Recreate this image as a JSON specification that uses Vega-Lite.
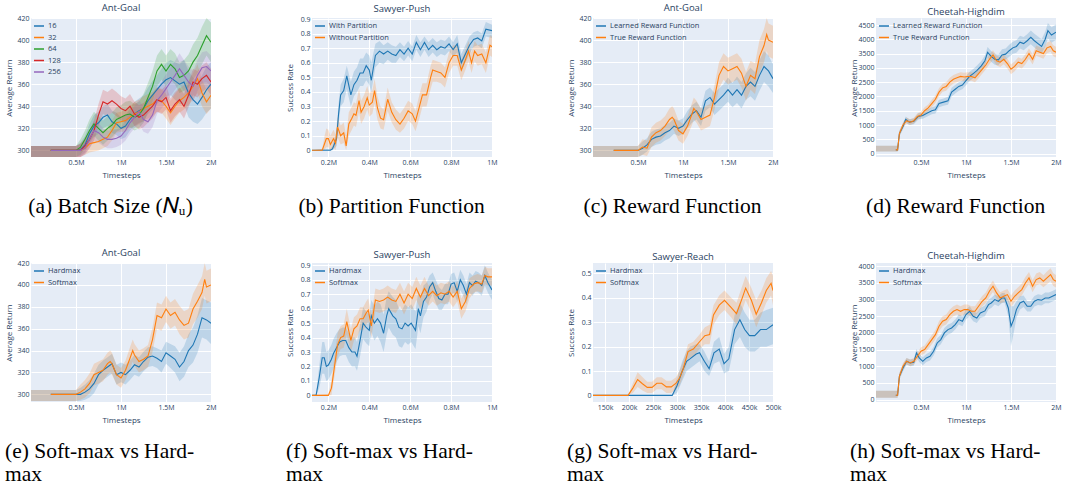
{
"$schema":"https://vega.github.io/schema/vega-lite/v6.json",
"padding":{"left":5,"top":2,"right":0,"bottom":0},
"background":"white",
"columns":4,
"spacing":{"row":29,"column":69},
"resolve":{"scale":{"x":"independent","y":"independent","color":"independent"},"axis":{"x":"independent","y":"independent"},"legend":{"color":"independent"}},
"datasets":{
"a":[
{"s":"16","x":0,"y":null,"l":294,"h":304},{"s":"16","x":0.22,"y":300,"l":294,"h":304},{"s":"16","x":0.5,"y":300,"l":294,"h":304},
{"s":"16","x":0.55,"y":301,"l":295,"h":307},{"s":"16","x":0.6,"y":305,"l":298,"h":313},{"s":"16","x":0.65,"y":315,"l":306,"h":324},{"s":"16","x":0.7,"y":322,"l":312,"h":332},{"s":"16","x":0.75,"y":325,"l":315,"h":335},{"s":"16","x":0.8,"y":330,"l":320,"h":340},{"s":"16","x":0.85,"y":332,"l":322,"h":342},{"s":"16","x":0.9,"y":326,"l":316,"h":336},{"s":"16","x":0.95,"y":324,"l":314,"h":334},{"s":"16","x":1.0,"y":320,"l":310,"h":330},{"s":"16","x":1.05,"y":322,"l":312,"h":332},{"s":"16","x":1.1,"y":328,"l":318,"h":338},{"s":"16","x":1.15,"y":333,"l":322,"h":344},{"s":"16","x":1.2,"y":336,"l":325,"h":347},{"s":"16","x":1.25,"y":338,"l":326,"h":350},{"s":"16","x":1.3,"y":345,"l":333,"h":357},{"s":"16","x":1.35,"y":350,"l":337,"h":363},{"s":"16","x":1.4,"y":355,"l":342,"h":368},{"s":"16","x":1.45,"y":360,"l":346,"h":374},{"s":"16","x":1.5,"y":364,"l":349,"h":379},{"s":"16","x":1.55,"y":366,"l":350,"h":382},{"s":"16","x":1.6,"y":363,"l":346,"h":380},{"s":"16","x":1.65,"y":360,"l":342,"h":378},{"s":"16","x":1.7,"y":362,"l":342,"h":382},{"s":"16","x":1.75,"y":352,"l":330,"h":372},{"s":"16","x":1.8,"y":346,"l":326,"h":366},{"s":"16","x":1.85,"y":342,"l":324,"h":362},{"s":"16","x":1.9,"y":348,"l":328,"h":368},{"s":"16","x":1.95,"y":355,"l":334,"h":376},{"s":"16","x":2.0,"y":360,"l":338,"h":380},
{"s":"32","x":0,"y":null,"l":294,"h":304},{"s":"32","x":0.22,"y":300,"l":294,"h":304},{"s":"32","x":0.5,"y":300,"l":294,"h":304},
{"s":"32","x":0.55,"y":300,"l":294,"h":306},{"s":"32","x":0.6,"y":302,"l":296,"h":310},{"s":"32","x":0.65,"y":306,"l":298,"h":314},{"s":"32","x":0.7,"y":307,"l":299,"h":315},{"s":"32","x":0.75,"y":308,"l":300,"h":316},{"s":"32","x":0.8,"y":310,"l":302,"h":318},{"s":"32","x":0.85,"y":312,"l":304,"h":320},{"s":"32","x":0.9,"y":318,"l":309,"h":327},{"s":"32","x":0.95,"y":325,"l":316,"h":334},{"s":"32","x":1.0,"y":326,"l":317,"h":335},{"s":"32","x":1.05,"y":327,"l":317,"h":337},{"s":"32","x":1.1,"y":330,"l":320,"h":340},{"s":"32","x":1.15,"y":333,"l":322,"h":344},{"s":"32","x":1.2,"y":335,"l":324,"h":346},{"s":"32","x":1.25,"y":338,"l":327,"h":349},{"s":"32","x":1.3,"y":340,"l":329,"h":351},{"s":"32","x":1.35,"y":342,"l":331,"h":353},{"s":"32","x":1.4,"y":346,"l":335,"h":357},{"s":"32","x":1.45,"y":345,"l":334,"h":356},{"s":"32","x":1.5,"y":340,"l":329,"h":351},{"s":"32","x":1.55,"y":334,"l":323,"h":345},{"s":"32","x":1.6,"y":340,"l":329,"h":351},{"s":"32","x":1.65,"y":345,"l":334,"h":356},{"s":"32","x":1.7,"y":348,"l":337,"h":359},{"s":"32","x":1.75,"y":352,"l":341,"h":363},{"s":"32","x":1.8,"y":358,"l":346,"h":370},{"s":"32","x":1.85,"y":365,"l":352,"h":378},{"s":"32","x":1.9,"y":352,"l":340,"h":364},{"s":"32","x":1.95,"y":344,"l":333,"h":355},{"s":"32","x":2.0,"y":350,"l":338,"h":362},
{"s":"64","x":0,"y":null,"l":294,"h":304},{"s":"64","x":0.22,"y":300,"l":294,"h":304},{"s":"64","x":0.5,"y":300,"l":294,"h":304},
{"s":"64","x":0.55,"y":303,"l":296,"h":310},{"s":"64","x":0.6,"y":310,"l":302,"h":318},{"s":"64","x":0.65,"y":318,"l":308,"h":328},{"s":"64","x":0.7,"y":324,"l":313,"h":335},{"s":"64","x":0.75,"y":320,"l":309,"h":331},{"s":"64","x":0.8,"y":316,"l":305,"h":327},{"s":"64","x":0.85,"y":320,"l":309,"h":331},{"s":"64","x":0.9,"y":323,"l":312,"h":334},{"s":"64","x":0.95,"y":328,"l":317,"h":339},{"s":"64","x":1.0,"y":330,"l":319,"h":341},{"s":"64","x":1.05,"y":332,"l":320,"h":344},{"s":"64","x":1.1,"y":333,"l":321,"h":345},{"s":"64","x":1.15,"y":330,"l":318,"h":342},{"s":"64","x":1.2,"y":332,"l":320,"h":344},{"s":"64","x":1.25,"y":338,"l":325,"h":351},{"s":"64","x":1.3,"y":348,"l":335,"h":361},{"s":"64","x":1.35,"y":358,"l":344,"h":372},{"s":"64","x":1.4,"y":372,"l":358,"h":386},{"s":"64","x":1.45,"y":378,"l":364,"h":392},{"s":"64","x":1.5,"y":372,"l":358,"h":386},{"s":"64","x":1.55,"y":378,"l":364,"h":392},{"s":"64","x":1.6,"y":374,"l":360,"h":388},{"s":"64","x":1.65,"y":366,"l":352,"h":380},{"s":"64","x":1.7,"y":368,"l":354,"h":382},{"s":"64","x":1.75,"y":372,"l":357,"h":387},{"s":"64","x":1.8,"y":380,"l":364,"h":396},{"s":"64","x":1.85,"y":386,"l":370,"h":402},{"s":"64","x":1.9,"y":395,"l":378,"h":412},{"s":"64","x":1.95,"y":404,"l":386,"h":420},{"s":"64","x":2.0,"y":398,"l":380,"h":416},
{"s":"128","x":0,"y":null,"l":294,"h":304},{"s":"128","x":0.22,"y":300,"l":294,"h":304},{"s":"128","x":0.5,"y":300,"l":294,"h":304},
{"s":"128","x":0.55,"y":300,"l":294,"h":306},{"s":"128","x":0.6,"y":304,"l":297,"h":311},{"s":"128","x":0.65,"y":310,"l":302,"h":318},{"s":"128","x":0.7,"y":318,"l":309,"h":327},{"s":"128","x":0.75,"y":332,"l":322,"h":342},{"s":"128","x":0.8,"y":344,"l":333,"h":355},{"s":"128","x":0.85,"y":342,"l":331,"h":353},{"s":"128","x":0.9,"y":345,"l":334,"h":356},{"s":"128","x":0.95,"y":342,"l":331,"h":353},{"s":"128","x":1.0,"y":338,"l":327,"h":349},{"s":"128","x":1.05,"y":336,"l":325,"h":347},{"s":"128","x":1.1,"y":340,"l":329,"h":351},{"s":"128","x":1.15,"y":333,"l":322,"h":344},{"s":"128","x":1.2,"y":330,"l":319,"h":341},{"s":"128","x":1.25,"y":332,"l":321,"h":343},{"s":"128","x":1.3,"y":336,"l":325,"h":347},{"s":"128","x":1.35,"y":340,"l":329,"h":351},{"s":"128","x":1.4,"y":346,"l":335,"h":357},{"s":"128","x":1.45,"y":344,"l":333,"h":355},{"s":"128","x":1.5,"y":348,"l":337,"h":359},{"s":"128","x":1.55,"y":336,"l":325,"h":347},{"s":"128","x":1.6,"y":342,"l":331,"h":353},{"s":"128","x":1.65,"y":346,"l":335,"h":357},{"s":"128","x":1.7,"y":340,"l":329,"h":351},{"s":"128","x":1.75,"y":350,"l":339,"h":361},{"s":"128","x":1.8,"y":362,"l":350,"h":374},{"s":"128","x":1.85,"y":360,"l":348,"h":372},{"s":"128","x":1.9,"y":365,"l":353,"h":377},{"s":"128","x":1.95,"y":368,"l":356,"h":380},{"s":"128","x":2.0,"y":362,"l":350,"h":374},
{"s":"256","x":0,"y":null,"l":294,"h":304},{"s":"256","x":0.22,"y":300,"l":294,"h":304},{"s":"256","x":0.5,"y":300,"l":294,"h":304},
{"s":"256","x":0.55,"y":300,"l":294,"h":306},{"s":"256","x":0.6,"y":302,"l":296,"h":308},{"s":"256","x":0.65,"y":310,"l":302,"h":318},{"s":"256","x":0.7,"y":318,"l":309,"h":327},{"s":"256","x":0.75,"y":316,"l":307,"h":325},{"s":"256","x":0.8,"y":312,"l":304,"h":320},{"s":"256","x":0.85,"y":310,"l":302,"h":318},{"s":"256","x":0.9,"y":310,"l":302,"h":318},{"s":"256","x":0.95,"y":311,"l":303,"h":319},{"s":"256","x":1.0,"y":313,"l":305,"h":321},{"s":"256","x":1.05,"y":318,"l":309,"h":327},{"s":"256","x":1.1,"y":325,"l":315,"h":335},{"s":"256","x":1.15,"y":330,"l":320,"h":340},{"s":"256","x":1.2,"y":335,"l":324,"h":346},{"s":"256","x":1.25,"y":328,"l":317,"h":339},{"s":"256","x":1.3,"y":326,"l":315,"h":337},{"s":"256","x":1.35,"y":332,"l":321,"h":343},{"s":"256","x":1.4,"y":345,"l":333,"h":357},{"s":"256","x":1.45,"y":350,"l":338,"h":362},{"s":"256","x":1.5,"y":356,"l":343,"h":369},{"s":"256","x":1.55,"y":362,"l":349,"h":375},{"s":"256","x":1.6,"y":368,"l":355,"h":381},{"s":"256","x":1.65,"y":374,"l":360,"h":388},{"s":"256","x":1.7,"y":368,"l":354,"h":382},{"s":"256","x":1.75,"y":362,"l":348,"h":376},{"s":"256","x":1.8,"y":358,"l":344,"h":372},{"s":"256","x":1.85,"y":368,"l":354,"h":382},{"s":"256","x":1.9,"y":375,"l":361,"h":389},{"s":"256","x":1.95,"y":376,"l":362,"h":390},{"s":"256","x":2.0,"y":372,"l":358,"h":386}
],
"b":[
{"s":"With Partition","x":0.12,"y":0,"l":0,"h":0},{"s":"With Partition","x":0.21,"y":0,"l":0,"h":0.01},{"s":"With Partition","x":0.22,"y":0.01,"l":0,"h":0.03},{"s":"With Partition","x":0.24,"y":0.08,"l":0.03,"h":0.13},{"s":"With Partition","x":0.25,"y":0.25,"l":0.18,"h":0.32},{"s":"With Partition","x":0.26,"y":0.38,"l":0.3,"h":0.45},{"s":"With Partition","x":0.275,"y":0.41,"l":0.33,"h":0.49},{"s":"With Partition","x":0.29,"y":0.51,"l":0.42,"h":0.58},{"s":"With Partition","x":0.31,"y":0.38,"l":0.3,"h":0.47},{"s":"With Partition","x":0.325,"y":0.45,"l":0.37,"h":0.54},{"s":"With Partition","x":0.34,"y":0.48,"l":0.4,"h":0.57},{"s":"With Partition","x":0.355,"y":0.53,"l":0.44,"h":0.63},{"s":"With Partition","x":0.37,"y":0.53,"l":0.44,"h":0.63},{"s":"With Partition","x":0.385,"y":0.58,"l":0.48,"h":0.67},{"s":"With Partition","x":0.4,"y":0.55,"l":0.45,"h":0.65},{"s":"With Partition","x":0.41,"y":0.48,"l":0.4,"h":0.6},{"s":"With Partition","x":0.43,"y":0.65,"l":0.57,"h":0.73},{"s":"With Partition","x":0.45,"y":0.68,"l":0.6,"h":0.75},{"s":"With Partition","x":0.47,"y":0.66,"l":0.59,"h":0.72},{"s":"With Partition","x":0.49,"y":0.68,"l":0.62,"h":0.74},{"s":"With Partition","x":0.51,"y":0.66,"l":0.6,"h":0.72},{"s":"With Partition","x":0.53,"y":0.65,"l":0.6,"h":0.71},{"s":"With Partition","x":0.55,"y":0.69,"l":0.64,"h":0.74},{"s":"With Partition","x":0.57,"y":0.66,"l":0.61,"h":0.71},{"s":"With Partition","x":0.59,"y":0.7,"l":0.65,"h":0.75},{"s":"With Partition","x":0.61,"y":0.66,"l":0.61,"h":0.71},{"s":"With Partition","x":0.63,"y":0.74,"l":0.69,"h":0.79},{"s":"With Partition","x":0.65,"y":0.69,"l":0.64,"h":0.74},{"s":"With Partition","x":0.67,"y":0.74,"l":0.69,"h":0.78},{"s":"With Partition","x":0.69,"y":0.69,"l":0.64,"h":0.74},{"s":"With Partition","x":0.71,"y":0.72,"l":0.67,"h":0.77},{"s":"With Partition","x":0.73,"y":0.69,"l":0.64,"h":0.74},{"s":"With Partition","x":0.75,"y":0.71,"l":0.66,"h":0.76},{"s":"With Partition","x":0.77,"y":0.7,"l":0.65,"h":0.75},{"s":"With Partition","x":0.79,"y":0.73,"l":0.68,"h":0.78},{"s":"With Partition","x":0.81,"y":0.69,"l":0.64,"h":0.74},{"s":"With Partition","x":0.83,"y":0.73,"l":0.67,"h":0.79},{"s":"With Partition","x":0.85,"y":0.6,"l":0.54,"h":0.66},{"s":"With Partition","x":0.87,"y":0.66,"l":0.6,"h":0.72},{"s":"With Partition","x":0.89,"y":0.72,"l":0.66,"h":0.78},{"s":"With Partition","x":0.91,"y":0.76,"l":0.71,"h":0.81},{"s":"With Partition","x":0.93,"y":0.77,"l":0.72,"h":0.82},{"s":"With Partition","x":0.95,"y":0.75,"l":0.7,"h":0.8},{"s":"With Partition","x":0.97,"y":0.83,"l":0.78,"h":0.88},{"s":"With Partition","x":1.0,"y":0.82,"l":0.77,"h":0.86},
{"s":"Without Partition","x":0.12,"y":0,"l":0,"h":0},{"s":"Without Partition","x":0.17,"y":0,"l":0,"h":0.01},{"s":"Without Partition","x":0.18,"y":0.04,"l":0,"h":0.09},{"s":"Without Partition","x":0.19,"y":0.08,"l":0.02,"h":0.15},{"s":"Without Partition","x":0.2,"y":0.08,"l":0.02,"h":0.14},{"s":"Without Partition","x":0.21,"y":0.04,"l":0,"h":0.1},{"s":"Without Partition","x":0.225,"y":0.08,"l":0.02,"h":0.14},{"s":"Without Partition","x":0.235,"y":0.05,"l":0,"h":0.11},{"s":"Without Partition","x":0.245,"y":0.16,"l":0.09,"h":0.23},{"s":"Without Partition","x":0.26,"y":0.1,"l":0.04,"h":0.17},{"s":"Without Partition","x":0.275,"y":0.12,"l":0.05,"h":0.19},{"s":"Without Partition","x":0.287,"y":0.03,"l":0,"h":0.1},{"s":"Without Partition","x":0.3,"y":0.18,"l":0.1,"h":0.26},{"s":"Without Partition","x":0.315,"y":0.22,"l":0.14,"h":0.3},{"s":"Without Partition","x":0.325,"y":0.25,"l":0.17,"h":0.33},{"s":"Without Partition","x":0.335,"y":0.24,"l":0.16,"h":0.32},{"s":"Without Partition","x":0.35,"y":0.34,"l":0.26,"h":0.42},{"s":"Without Partition","x":0.36,"y":0.26,"l":0.18,"h":0.34},{"s":"Without Partition","x":0.375,"y":0.3,"l":0.22,"h":0.38},{"s":"Without Partition","x":0.39,"y":0.36,"l":0.28,"h":0.44},{"s":"Without Partition","x":0.4,"y":0.31,"l":0.23,"h":0.39},{"s":"Without Partition","x":0.415,"y":0.33,"l":0.25,"h":0.41},{"s":"Without Partition","x":0.426,"y":0.41,"l":0.32,"h":0.49},{"s":"Without Partition","x":0.44,"y":0.29,"l":0.21,"h":0.37},{"s":"Without Partition","x":0.455,"y":0.22,"l":0.15,"h":0.3},{"s":"Without Partition","x":0.47,"y":0.21,"l":0.14,"h":0.28},{"s":"Without Partition","x":0.49,"y":0.35,"l":0.27,"h":0.43},{"s":"Without Partition","x":0.51,"y":0.26,"l":0.19,"h":0.33},{"s":"Without Partition","x":0.53,"y":0.21,"l":0.14,"h":0.28},{"s":"Without Partition","x":0.55,"y":0.18,"l":0.12,"h":0.25},{"s":"Without Partition","x":0.57,"y":0.22,"l":0.15,"h":0.29},{"s":"Without Partition","x":0.59,"y":0.27,"l":0.2,"h":0.34},{"s":"Without Partition","x":0.61,"y":0.25,"l":0.18,"h":0.32},{"s":"Without Partition","x":0.626,"y":0.2,"l":0.13,"h":0.27},{"s":"Without Partition","x":0.645,"y":0.3,"l":0.22,"h":0.38},{"s":"Without Partition","x":0.66,"y":0.38,"l":0.3,"h":0.46},{"s":"Without Partition","x":0.68,"y":0.38,"l":0.3,"h":0.46},{"s":"Without Partition","x":0.7,"y":0.5,"l":0.42,"h":0.58},{"s":"Without Partition","x":0.71,"y":0.55,"l":0.47,"h":0.62},{"s":"Without Partition","x":0.73,"y":0.54,"l":0.47,"h":0.61},{"s":"Without Partition","x":0.75,"y":0.53,"l":0.46,"h":0.6},{"s":"Without Partition","x":0.77,"y":0.5,"l":0.43,"h":0.57},{"s":"Without Partition","x":0.79,"y":0.6,"l":0.53,"h":0.67},{"s":"Without Partition","x":0.81,"y":0.65,"l":0.58,"h":0.72},{"s":"Without Partition","x":0.83,"y":0.65,"l":0.58,"h":0.72},{"s":"Without Partition","x":0.85,"y":0.55,"l":0.48,"h":0.62},{"s":"Without Partition","x":0.87,"y":0.62,"l":0.55,"h":0.69},{"s":"Without Partition","x":0.885,"y":0.68,"l":0.61,"h":0.75},{"s":"Without Partition","x":0.9,"y":0.6,"l":0.53,"h":0.67},{"s":"Without Partition","x":0.915,"y":0.68,"l":0.61,"h":0.75},{"s":"Without Partition","x":0.93,"y":0.65,"l":0.58,"h":0.72},{"s":"Without Partition","x":0.95,"y":0.66,"l":0.59,"h":0.73},{"s":"Without Partition","x":0.97,"y":0.6,"l":0.53,"h":0.67},{"s":"Without Partition","x":0.99,"y":0.72,"l":0.65,"h":0.79},{"s":"Without Partition","x":1.0,"y":0.71,"l":0.64,"h":0.78}
],
"c":[
{"s":"Learned Reward Function","x":0,"y":null,"l":294,"h":304},{"s":"Learned Reward Function","x":0.23,"y":300,"l":294,"h":304},{"s":"Learned Reward Function","x":0.5,"y":300,"l":294,"h":304},
{"s":"Learned Reward Function","x":0.55,"y":302,"l":296,"h":308},{"s":"Learned Reward Function","x":0.6,"y":305,"l":299,"h":311},{"s":"Learned Reward Function","x":0.65,"y":310,"l":303,"h":317},{"s":"Learned Reward Function","x":0.7,"y":312,"l":305,"h":319},{"s":"Learned Reward Function","x":0.75,"y":313,"l":306,"h":320},{"s":"Learned Reward Function","x":0.8,"y":316,"l":309,"h":323},{"s":"Learned Reward Function","x":0.85,"y":318,"l":311,"h":325},{"s":"Learned Reward Function","x":0.9,"y":322,"l":315,"h":329},{"s":"Learned Reward Function","x":0.95,"y":320,"l":313,"h":327},{"s":"Learned Reward Function","x":1.0,"y":322,"l":315,"h":329},{"s":"Learned Reward Function","x":1.05,"y":328,"l":320,"h":336},{"s":"Learned Reward Function","x":1.1,"y":333,"l":325,"h":341},{"s":"Learned Reward Function","x":1.15,"y":336,"l":328,"h":344},{"s":"Learned Reward Function","x":1.2,"y":330,"l":322,"h":338},{"s":"Learned Reward Function","x":1.25,"y":345,"l":336,"h":354},{"s":"Learned Reward Function","x":1.3,"y":348,"l":339,"h":357},{"s":"Learned Reward Function","x":1.35,"y":342,"l":332,"h":352},{"s":"Learned Reward Function","x":1.4,"y":346,"l":336,"h":356},{"s":"Learned Reward Function","x":1.45,"y":350,"l":340,"h":360},{"s":"Learned Reward Function","x":1.5,"y":355,"l":344,"h":366},{"s":"Learned Reward Function","x":1.55,"y":350,"l":339,"h":361},{"s":"Learned Reward Function","x":1.6,"y":355,"l":343,"h":367},{"s":"Learned Reward Function","x":1.65,"y":350,"l":338,"h":362},{"s":"Learned Reward Function","x":1.7,"y":358,"l":346,"h":370},{"s":"Learned Reward Function","x":1.75,"y":362,"l":349,"h":375},{"s":"Learned Reward Function","x":1.8,"y":358,"l":345,"h":371},{"s":"Learned Reward Function","x":1.85,"y":368,"l":354,"h":382},{"s":"Learned Reward Function","x":1.9,"y":376,"l":362,"h":390},{"s":"Learned Reward Function","x":1.95,"y":372,"l":358,"h":386},{"s":"Learned Reward Function","x":2.0,"y":365,"l":352,"h":378},
{"s":"True Reward Function","x":0,"y":null,"l":294,"h":304},{"s":"True Reward Function","x":0.23,"y":300,"l":294,"h":304},{"s":"True Reward Function","x":0.5,"y":300,"l":294,"h":304},
{"s":"True Reward Function","x":0.55,"y":303,"l":296,"h":310},{"s":"True Reward Function","x":0.6,"y":302,"l":295,"h":309},{"s":"True Reward Function","x":0.65,"y":312,"l":303,"h":321},{"s":"True Reward Function","x":0.7,"y":316,"l":307,"h":325},{"s":"True Reward Function","x":0.75,"y":318,"l":309,"h":327},{"s":"True Reward Function","x":0.8,"y":322,"l":313,"h":331},{"s":"True Reward Function","x":0.85,"y":328,"l":318,"h":338},{"s":"True Reward Function","x":0.88,"y":330,"l":320,"h":340},{"s":"True Reward Function","x":0.9,"y":328,"l":318,"h":338},{"s":"True Reward Function","x":0.95,"y":318,"l":309,"h":327},{"s":"True Reward Function","x":1.0,"y":315,"l":306,"h":324},{"s":"True Reward Function","x":1.05,"y":322,"l":313,"h":331},{"s":"True Reward Function","x":1.1,"y":333,"l":323,"h":343},{"s":"True Reward Function","x":1.12,"y":338,"l":328,"h":348},{"s":"True Reward Function","x":1.15,"y":335,"l":325,"h":345},{"s":"True Reward Function","x":1.2,"y":328,"l":318,"h":338},{"s":"True Reward Function","x":1.25,"y":330,"l":320,"h":340},{"s":"True Reward Function","x":1.3,"y":332,"l":322,"h":342},{"s":"True Reward Function","x":1.35,"y":348,"l":337,"h":359},{"s":"True Reward Function","x":1.4,"y":368,"l":356,"h":380},{"s":"True Reward Function","x":1.45,"y":376,"l":364,"h":388},{"s":"True Reward Function","x":1.5,"y":372,"l":360,"h":384},{"s":"True Reward Function","x":1.55,"y":374,"l":362,"h":386},{"s":"True Reward Function","x":1.6,"y":376,"l":364,"h":388},{"s":"True Reward Function","x":1.65,"y":370,"l":357,"h":383},{"s":"True Reward Function","x":1.7,"y":358,"l":345,"h":371},{"s":"True Reward Function","x":1.75,"y":368,"l":355,"h":381},{"s":"True Reward Function","x":1.8,"y":365,"l":351,"h":379},{"s":"True Reward Function","x":1.85,"y":385,"l":370,"h":400},{"s":"True Reward Function","x":1.9,"y":395,"l":380,"h":410},{"s":"True Reward Function","x":1.93,"y":405,"l":390,"h":420},{"s":"True Reward Function","x":1.95,"y":400,"l":385,"h":415},{"s":"True Reward Function","x":2.0,"y":398,"l":383,"h":413}
],
"d":[
{"s":"Learned Reward Function","x":0,"y":null,"l":70,"h":270},{"s":"Learned Reward Function","x":0.22,"y":130,"l":70,"h":270},{"s":"Learned Reward Function","x":0.24,"y":130,"l":70,"h":270},
{"s":"Learned Reward Function","x":0.26,"y":700,"l":600,"h":800},{"s":"Learned Reward Function","x":0.3,"y":950,"l":850,"h":1050},{"s":"Learned Reward Function","x":0.33,"y":1200,"l":1080,"h":1300},{"s":"Learned Reward Function","x":0.37,"y":1100,"l":1000,"h":1200},{"s":"Learned Reward Function","x":0.42,"y":1130,"l":1030,"h":1230},{"s":"Learned Reward Function","x":0.47,"y":1300,"l":1190,"h":1410},{"s":"Learned Reward Function","x":0.52,"y":1330,"l":1220,"h":1440},{"s":"Learned Reward Function","x":0.57,"y":1420,"l":1300,"h":1540},{"s":"Learned Reward Function","x":0.62,"y":1500,"l":1380,"h":1620},{"s":"Learned Reward Function","x":0.66,"y":1530,"l":1400,"h":1660},{"s":"Learned Reward Function","x":0.7,"y":1750,"l":1620,"h":1880},{"s":"Learned Reward Function","x":0.75,"y":1800,"l":1670,"h":1930},{"s":"Learned Reward Function","x":0.8,"y":1850,"l":1710,"h":1990},{"s":"Learned Reward Function","x":0.84,"y":2150,"l":2000,"h":2300},{"s":"Learned Reward Function","x":0.88,"y":2250,"l":2100,"h":2400},{"s":"Learned Reward Function","x":0.92,"y":2350,"l":2200,"h":2500},{"s":"Learned Reward Function","x":0.96,"y":2400,"l":2250,"h":2550},{"s":"Learned Reward Function","x":1.0,"y":2550,"l":2390,"h":2710},{"s":"Learned Reward Function","x":1.04,"y":2700,"l":2540,"h":2860},{"s":"Learned Reward Function","x":1.08,"y":2800,"l":2640,"h":2960},{"s":"Learned Reward Function","x":1.12,"y":2900,"l":2730,"h":3070},{"s":"Learned Reward Function","x":1.17,"y":3070,"l":2900,"h":3240},{"s":"Learned Reward Function","x":1.21,"y":3250,"l":3070,"h":3430},{"s":"Learned Reward Function","x":1.24,"y":3540,"l":3350,"h":3730},{"s":"Learned Reward Function","x":1.28,"y":3400,"l":3210,"h":3590},{"s":"Learned Reward Function","x":1.32,"y":3300,"l":3110,"h":3490},{"s":"Learned Reward Function","x":1.36,"y":3280,"l":3090,"h":3470},{"s":"Learned Reward Function","x":1.4,"y":3450,"l":3250,"h":3650},{"s":"Learned Reward Function","x":1.44,"y":3480,"l":3280,"h":3680},{"s":"Learned Reward Function","x":1.48,"y":3600,"l":3390,"h":3810},{"s":"Learned Reward Function","x":1.52,"y":3700,"l":3490,"h":3910},{"s":"Learned Reward Function","x":1.56,"y":3750,"l":3530,"h":3970},{"s":"Learned Reward Function","x":1.6,"y":3900,"l":3680,"h":4120},{"s":"Learned Reward Function","x":1.64,"y":3850,"l":3620,"h":4080},{"s":"Learned Reward Function","x":1.68,"y":3950,"l":3720,"h":4180},{"s":"Learned Reward Function","x":1.72,"y":4070,"l":3830,"h":4310},{"s":"Learned Reward Function","x":1.76,"y":3950,"l":3710,"h":4190},{"s":"Learned Reward Function","x":1.8,"y":3850,"l":3600,"h":4100},{"s":"Learned Reward Function","x":1.84,"y":3750,"l":3500,"h":4000},{"s":"Learned Reward Function","x":1.88,"y":4000,"l":3740,"h":4260},{"s":"Learned Reward Function","x":1.91,"y":4300,"l":4030,"h":4570},{"s":"Learned Reward Function","x":1.95,"y":4150,"l":3880,"h":4420},{"s":"Learned Reward Function","x":2.0,"y":4250,"l":3980,"h":4520},
{"s":"True Reward Function","x":0,"y":null,"l":70,"h":270},{"s":"True Reward Function","x":0.22,"y":130,"l":70,"h":270},{"s":"True Reward Function","x":0.24,"y":130,"l":70,"h":270},
{"s":"True Reward Function","x":0.26,"y":700,"l":600,"h":800},{"s":"True Reward Function","x":0.3,"y":1000,"l":900,"h":1100},{"s":"True Reward Function","x":0.34,"y":1150,"l":1050,"h":1250},{"s":"True Reward Function","x":0.38,"y":1100,"l":1000,"h":1200},{"s":"True Reward Function","x":0.42,"y":1150,"l":1050,"h":1250},{"s":"True Reward Function","x":0.46,"y":1300,"l":1190,"h":1410},{"s":"True Reward Function","x":0.5,"y":1350,"l":1240,"h":1460},{"s":"True Reward Function","x":0.54,"y":1500,"l":1380,"h":1620},{"s":"True Reward Function","x":0.58,"y":1600,"l":1480,"h":1720},{"s":"True Reward Function","x":0.62,"y":1750,"l":1620,"h":1880},{"s":"True Reward Function","x":0.66,"y":1900,"l":1770,"h":2030},{"s":"True Reward Function","x":0.7,"y":2150,"l":2010,"h":2290},{"s":"True Reward Function","x":0.74,"y":2300,"l":2160,"h":2440},{"s":"True Reward Function","x":0.78,"y":2350,"l":2200,"h":2500},{"s":"True Reward Function","x":0.82,"y":2500,"l":2350,"h":2650},{"s":"True Reward Function","x":0.86,"y":2600,"l":2450,"h":2750},{"s":"True Reward Function","x":0.9,"y":2650,"l":2500,"h":2800},{"s":"True Reward Function","x":0.94,"y":2700,"l":2550,"h":2850},{"s":"True Reward Function","x":0.98,"y":2680,"l":2530,"h":2830},{"s":"True Reward Function","x":1.02,"y":2700,"l":2550,"h":2850},{"s":"True Reward Function","x":1.06,"y":2700,"l":2550,"h":2850},{"s":"True Reward Function","x":1.1,"y":2650,"l":2500,"h":2800},{"s":"True Reward Function","x":1.14,"y":2800,"l":2640,"h":2960},{"s":"True Reward Function","x":1.18,"y":2950,"l":2790,"h":3110},{"s":"True Reward Function","x":1.22,"y":3100,"l":2940,"h":3260},{"s":"True Reward Function","x":1.26,"y":3300,"l":3130,"h":3470},{"s":"True Reward Function","x":1.3,"y":3450,"l":3280,"h":3620},{"s":"True Reward Function","x":1.34,"y":3250,"l":3080,"h":3420},{"s":"True Reward Function","x":1.38,"y":3200,"l":3030,"h":3370},{"s":"True Reward Function","x":1.42,"y":3300,"l":3130,"h":3470},{"s":"True Reward Function","x":1.46,"y":3150,"l":2980,"h":3320},{"s":"True Reward Function","x":1.5,"y":2950,"l":2780,"h":3120},{"s":"True Reward Function","x":1.54,"y":3050,"l":2880,"h":3220},{"s":"True Reward Function","x":1.58,"y":3200,"l":3030,"h":3370},{"s":"True Reward Function","x":1.62,"y":3150,"l":2980,"h":3320},{"s":"True Reward Function","x":1.66,"y":3300,"l":3120,"h":3480},{"s":"True Reward Function","x":1.7,"y":3500,"l":3320,"h":3680},{"s":"True Reward Function","x":1.74,"y":3300,"l":3120,"h":3480},{"s":"True Reward Function","x":1.78,"y":3600,"l":3420,"h":3780},{"s":"True Reward Function","x":1.82,"y":3550,"l":3370,"h":3730},{"s":"True Reward Function","x":1.86,"y":3500,"l":3320,"h":3680},{"s":"True Reward Function","x":1.9,"y":3700,"l":3510,"h":3890},{"s":"True Reward Function","x":1.94,"y":3750,"l":3560,"h":3940},{"s":"True Reward Function","x":1.97,"y":3600,"l":3410,"h":3790},{"s":"True Reward Function","x":2.0,"y":3550,"l":3360,"h":3740}
],
"e":[
{"s":"Hardmax","x":0,"y":null,"l":294,"h":304},{"s":"Hardmax","x":0.22,"y":300,"l":294,"h":304},{"s":"Hardmax","x":0.5,"y":300,"l":294,"h":304},
{"s":"Hardmax","x":0.55,"y":300,"l":294,"h":306},{"s":"Hardmax","x":0.6,"y":302,"l":295,"h":309},{"s":"Hardmax","x":0.65,"y":305,"l":297,"h":313},{"s":"Hardmax","x":0.7,"y":310,"l":301,"h":319},{"s":"Hardmax","x":0.75,"y":318,"l":309,"h":327},{"s":"Hardmax","x":0.8,"y":322,"l":313,"h":331},{"s":"Hardmax","x":0.85,"y":325,"l":316,"h":334},{"s":"Hardmax","x":0.9,"y":328,"l":319,"h":337},{"s":"Hardmax","x":0.95,"y":318,"l":309,"h":327},{"s":"Hardmax","x":1.0,"y":320,"l":311,"h":329},{"s":"Hardmax","x":1.05,"y":318,"l":309,"h":327},{"s":"Hardmax","x":1.1,"y":322,"l":313,"h":331},{"s":"Hardmax","x":1.15,"y":327,"l":318,"h":336},{"s":"Hardmax","x":1.2,"y":325,"l":316,"h":334},{"s":"Hardmax","x":1.25,"y":330,"l":321,"h":339},{"s":"Hardmax","x":1.3,"y":334,"l":325,"h":343},{"s":"Hardmax","x":1.35,"y":335,"l":326,"h":344},{"s":"Hardmax","x":1.4,"y":333,"l":324,"h":342},{"s":"Hardmax","x":1.45,"y":330,"l":320,"h":340},{"s":"Hardmax","x":1.5,"y":338,"l":328,"h":348},{"s":"Hardmax","x":1.55,"y":335,"l":324,"h":346},{"s":"Hardmax","x":1.6,"y":332,"l":320,"h":344},{"s":"Hardmax","x":1.65,"y":325,"l":312,"h":338},{"s":"Hardmax","x":1.7,"y":330,"l":316,"h":344},{"s":"Hardmax","x":1.75,"y":340,"l":325,"h":355},{"s":"Hardmax","x":1.8,"y":345,"l":329,"h":361},{"s":"Hardmax","x":1.85,"y":355,"l":338,"h":372},{"s":"Hardmax","x":1.9,"y":370,"l":352,"h":388},{"s":"Hardmax","x":1.95,"y":368,"l":350,"h":386},{"s":"Hardmax","x":2.0,"y":365,"l":346,"h":384},
{"s":"Softmax","x":0,"y":null,"l":294,"h":304},{"s":"Softmax","x":0.22,"y":300,"l":294,"h":304},{"s":"Softmax","x":0.5,"y":300,"l":294,"h":304},
{"s":"Softmax","x":0.55,"y":302,"l":295,"h":309},{"s":"Softmax","x":0.6,"y":305,"l":297,"h":313},{"s":"Softmax","x":0.65,"y":310,"l":301,"h":319},{"s":"Softmax","x":0.7,"y":318,"l":308,"h":328},{"s":"Softmax","x":0.75,"y":320,"l":310,"h":330},{"s":"Softmax","x":0.8,"y":322,"l":312,"h":332},{"s":"Softmax","x":0.85,"y":328,"l":318,"h":338},{"s":"Softmax","x":0.88,"y":330,"l":320,"h":340},{"s":"Softmax","x":0.9,"y":328,"l":318,"h":338},{"s":"Softmax","x":0.95,"y":318,"l":309,"h":327},{"s":"Softmax","x":1.0,"y":315,"l":306,"h":324},{"s":"Softmax","x":1.05,"y":322,"l":313,"h":331},{"s":"Softmax","x":1.1,"y":333,"l":323,"h":343},{"s":"Softmax","x":1.13,"y":340,"l":330,"h":350},{"s":"Softmax","x":1.15,"y":336,"l":326,"h":346},{"s":"Softmax","x":1.2,"y":330,"l":320,"h":340},{"s":"Softmax","x":1.25,"y":332,"l":322,"h":342},{"s":"Softmax","x":1.3,"y":335,"l":325,"h":345},{"s":"Softmax","x":1.35,"y":350,"l":339,"h":361},{"s":"Softmax","x":1.4,"y":372,"l":360,"h":384},{"s":"Softmax","x":1.45,"y":370,"l":358,"h":382},{"s":"Softmax","x":1.5,"y":378,"l":366,"h":390},{"s":"Softmax","x":1.55,"y":372,"l":360,"h":384},{"s":"Softmax","x":1.6,"y":375,"l":363,"h":387},{"s":"Softmax","x":1.65,"y":368,"l":355,"h":381},{"s":"Softmax","x":1.7,"y":363,"l":350,"h":376},{"s":"Softmax","x":1.75,"y":365,"l":352,"h":378},{"s":"Softmax","x":1.8,"y":378,"l":364,"h":392},{"s":"Softmax","x":1.85,"y":385,"l":370,"h":400},{"s":"Softmax","x":1.9,"y":393,"l":378,"h":408},{"s":"Softmax","x":1.93,"y":405,"l":390,"h":420},{"s":"Softmax","x":1.95,"y":398,"l":383,"h":413},{"s":"Softmax","x":2.0,"y":400,"l":385,"h":415}
],
"f":[
{"s":"Hardmax","x":0.12,"y":0,"l":0,"h":0},{"s":"Hardmax","x":0.14,"y":0,"l":0,"h":0.01},{"s":"Hardmax","x":0.155,"y":0.12,"l":0.05,"h":0.2},{"s":"Hardmax","x":0.17,"y":0.26,"l":0.15,"h":0.37},{"s":"Hardmax","x":0.18,"y":0.26,"l":0.15,"h":0.37},{"s":"Hardmax","x":0.19,"y":0.2,"l":0.1,"h":0.3},{"s":"Hardmax","x":0.2,"y":0.21,"l":0.11,"h":0.31},{"s":"Hardmax","x":0.215,"y":0.25,"l":0.15,"h":0.35},{"s":"Hardmax","x":0.225,"y":0.29,"l":0.19,"h":0.39},{"s":"Hardmax","x":0.24,"y":0.33,"l":0.23,"h":0.43},{"s":"Hardmax","x":0.255,"y":0.37,"l":0.27,"h":0.46},{"s":"Hardmax","x":0.27,"y":0.38,"l":0.28,"h":0.47},{"s":"Hardmax","x":0.285,"y":0.38,"l":0.28,"h":0.47},{"s":"Hardmax","x":0.3,"y":0.33,"l":0.23,"h":0.43},{"s":"Hardmax","x":0.315,"y":0.3,"l":0.2,"h":0.4},{"s":"Hardmax","x":0.33,"y":0.3,"l":0.2,"h":0.4},{"s":"Hardmax","x":0.34,"y":0.27,"l":0.17,"h":0.37},{"s":"Hardmax","x":0.355,"y":0.38,"l":0.27,"h":0.49},{"s":"Hardmax","x":0.37,"y":0.5,"l":0.39,"h":0.61},{"s":"Hardmax","x":0.385,"y":0.47,"l":0.36,"h":0.58},{"s":"Hardmax","x":0.4,"y":0.45,"l":0.34,"h":0.56},{"s":"Hardmax","x":0.41,"y":0.55,"l":0.44,"h":0.66},{"s":"Hardmax","x":0.425,"y":0.5,"l":0.38,"h":0.62},{"s":"Hardmax","x":0.44,"y":0.53,"l":0.41,"h":0.65},{"s":"Hardmax","x":0.455,"y":0.5,"l":0.37,"h":0.63},{"s":"Hardmax","x":0.47,"y":0.43,"l":0.3,"h":0.56},{"s":"Hardmax","x":0.485,"y":0.55,"l":0.42,"h":0.68},{"s":"Hardmax","x":0.495,"y":0.6,"l":0.47,"h":0.72},{"s":"Hardmax","x":0.515,"y":0.55,"l":0.42,"h":0.68},{"s":"Hardmax","x":0.53,"y":0.53,"l":0.4,"h":0.66},{"s":"Hardmax","x":0.545,"y":0.47,"l":0.34,"h":0.6},{"s":"Hardmax","x":0.56,"y":0.46,"l":0.33,"h":0.59},{"s":"Hardmax","x":0.575,"y":0.5,"l":0.37,"h":0.63},{"s":"Hardmax","x":0.59,"y":0.48,"l":0.35,"h":0.61},{"s":"Hardmax","x":0.605,"y":0.5,"l":0.37,"h":0.63},{"s":"Hardmax","x":0.626,"y":0.45,"l":0.32,"h":0.58},{"s":"Hardmax","x":0.64,"y":0.6,"l":0.48,"h":0.72},{"s":"Hardmax","x":0.65,"y":0.55,"l":0.43,"h":0.67},{"s":"Hardmax","x":0.665,"y":0.65,"l":0.54,"h":0.76},{"s":"Hardmax","x":0.68,"y":0.68,"l":0.58,"h":0.78},{"s":"Hardmax","x":0.695,"y":0.75,"l":0.66,"h":0.83},{"s":"Hardmax","x":0.71,"y":0.78,"l":0.7,"h":0.85},{"s":"Hardmax","x":0.725,"y":0.72,"l":0.64,"h":0.8},{"s":"Hardmax","x":0.74,"y":0.67,"l":0.59,"h":0.75},{"s":"Hardmax","x":0.755,"y":0.66,"l":0.59,"h":0.73},{"s":"Hardmax","x":0.77,"y":0.7,"l":0.63,"h":0.77},{"s":"Hardmax","x":0.785,"y":0.7,"l":0.63,"h":0.77},{"s":"Hardmax","x":0.8,"y":0.77,"l":0.7,"h":0.84},{"s":"Hardmax","x":0.815,"y":0.78,"l":0.71,"h":0.85},{"s":"Hardmax","x":0.83,"y":0.72,"l":0.65,"h":0.79},{"s":"Hardmax","x":0.845,"y":0.8,"l":0.73,"h":0.87},{"s":"Hardmax","x":0.86,"y":0.76,"l":0.69,"h":0.83},{"s":"Hardmax","x":0.875,"y":0.7,"l":0.63,"h":0.77},{"s":"Hardmax","x":0.89,"y":0.78,"l":0.71,"h":0.85},{"s":"Hardmax","x":0.905,"y":0.76,"l":0.69,"h":0.83},{"s":"Hardmax","x":0.92,"y":0.79,"l":0.72,"h":0.86},{"s":"Hardmax","x":0.935,"y":0.78,"l":0.71,"h":0.85},{"s":"Hardmax","x":0.95,"y":0.76,"l":0.69,"h":0.83},{"s":"Hardmax","x":0.965,"y":0.83,"l":0.76,"h":0.9},{"s":"Hardmax","x":0.98,"y":0.78,"l":0.71,"h":0.85},{"s":"Hardmax","x":1.0,"y":0.73,"l":0.66,"h":0.8},
{"s":"Softmax","x":0.12,"y":0,"l":0,"h":0},{"s":"Softmax","x":0.2,"y":0,"l":0,"h":0.01},{"s":"Softmax","x":0.215,"y":0.05,"l":0,"h":0.1},{"s":"Softmax","x":0.23,"y":0.2,"l":0.13,"h":0.27},{"s":"Softmax","x":0.245,"y":0.35,"l":0.27,"h":0.43},{"s":"Softmax","x":0.26,"y":0.4,"l":0.32,"h":0.48},{"s":"Softmax","x":0.275,"y":0.41,"l":0.33,"h":0.49},{"s":"Softmax","x":0.29,"y":0.51,"l":0.42,"h":0.6},{"s":"Softmax","x":0.31,"y":0.38,"l":0.3,"h":0.46},{"s":"Softmax","x":0.325,"y":0.46,"l":0.38,"h":0.54},{"s":"Softmax","x":0.34,"y":0.48,"l":0.4,"h":0.56},{"s":"Softmax","x":0.355,"y":0.53,"l":0.45,"h":0.61},{"s":"Softmax","x":0.37,"y":0.53,"l":0.45,"h":0.61},{"s":"Softmax","x":0.385,"y":0.57,"l":0.49,"h":0.65},{"s":"Softmax","x":0.395,"y":0.59,"l":0.51,"h":0.67},{"s":"Softmax","x":0.41,"y":0.48,"l":0.4,"h":0.56},{"s":"Softmax","x":0.43,"y":0.66,"l":0.58,"h":0.74},{"s":"Softmax","x":0.45,"y":0.65,"l":0.57,"h":0.73},{"s":"Softmax","x":0.47,"y":0.66,"l":0.58,"h":0.74},{"s":"Softmax","x":0.49,"y":0.68,"l":0.6,"h":0.76},{"s":"Softmax","x":0.51,"y":0.66,"l":0.58,"h":0.74},{"s":"Softmax","x":0.53,"y":0.65,"l":0.57,"h":0.73},{"s":"Softmax","x":0.55,"y":0.7,"l":0.62,"h":0.78},{"s":"Softmax","x":0.57,"y":0.64,"l":0.56,"h":0.72},{"s":"Softmax","x":0.59,"y":0.7,"l":0.62,"h":0.78},{"s":"Softmax","x":0.61,"y":0.67,"l":0.59,"h":0.75},{"s":"Softmax","x":0.63,"y":0.74,"l":0.66,"h":0.82},{"s":"Softmax","x":0.65,"y":0.68,"l":0.6,"h":0.76},{"s":"Softmax","x":0.67,"y":0.74,"l":0.66,"h":0.82},{"s":"Softmax","x":0.69,"y":0.69,"l":0.62,"h":0.76},{"s":"Softmax","x":0.71,"y":0.72,"l":0.65,"h":0.79},{"s":"Softmax","x":0.73,"y":0.69,"l":0.62,"h":0.76},{"s":"Softmax","x":0.75,"y":0.71,"l":0.64,"h":0.78},{"s":"Softmax","x":0.77,"y":0.7,"l":0.63,"h":0.77},{"s":"Softmax","x":0.79,"y":0.72,"l":0.65,"h":0.79},{"s":"Softmax","x":0.81,"y":0.68,"l":0.61,"h":0.75},{"s":"Softmax","x":0.83,"y":0.72,"l":0.65,"h":0.79},{"s":"Softmax","x":0.85,"y":0.6,"l":0.53,"h":0.67},{"s":"Softmax","x":0.87,"y":0.65,"l":0.58,"h":0.72},{"s":"Softmax","x":0.89,"y":0.74,"l":0.67,"h":0.81},{"s":"Softmax","x":0.91,"y":0.77,"l":0.71,"h":0.83},{"s":"Softmax","x":0.93,"y":0.78,"l":0.72,"h":0.84},{"s":"Softmax","x":0.95,"y":0.77,"l":0.71,"h":0.83},{"s":"Softmax","x":0.965,"y":0.83,"l":0.77,"h":0.89},{"s":"Softmax","x":0.98,"y":0.82,"l":0.76,"h":0.88},{"s":"Softmax","x":1.0,"y":0.82,"l":0.76,"h":0.88}
],
"g":[
{"s":"Hardmax","x":125,"y":0,"l":0,"h":0},{"s":"Hardmax","x":290,"y":0,"l":0,"h":0},{"s":"Hardmax","x":300,"y":0.04,"l":0.01,"h":0.07},{"s":"Hardmax","x":311,"y":0.1,"l":0.06,"h":0.14},{"s":"Hardmax","x":320,"y":0.14,"l":0.1,"h":0.18},{"s":"Hardmax","x":327,"y":0.15,"l":0.11,"h":0.2},{"s":"Hardmax","x":340,"y":0.17,"l":0.13,"h":0.21},{"s":"Hardmax","x":347,"y":0.175,"l":0.14,"h":0.21},{"s":"Hardmax","x":357,"y":0.14,"l":0.1,"h":0.18},{"s":"Hardmax","x":367,"y":0.11,"l":0.08,"h":0.14},{"s":"Hardmax","x":377,"y":0.175,"l":0.13,"h":0.22},{"s":"Hardmax","x":388,"y":0.19,"l":0.14,"h":0.24},{"s":"Hardmax","x":398,"y":0.13,"l":0.09,"h":0.17},{"s":"Hardmax","x":408,"y":0.15,"l":0.1,"h":0.2},{"s":"Hardmax","x":420,"y":0.27,"l":0.21,"h":0.33},{"s":"Hardmax","x":431,"y":0.31,"l":0.24,"h":0.38},{"s":"Hardmax","x":441,"y":0.27,"l":0.2,"h":0.34},{"s":"Hardmax","x":451,"y":0.245,"l":0.18,"h":0.31},{"s":"Hardmax","x":462,"y":0.245,"l":0.18,"h":0.31},{"s":"Hardmax","x":474,"y":0.27,"l":0.2,"h":0.34},{"s":"Hardmax","x":486,"y":0.27,"l":0.2,"h":0.35},{"s":"Hardmax","x":500,"y":0.29,"l":0.21,"h":0.36},
{"s":"Softmax","x":125,"y":0,"l":0,"h":0},{"s":"Softmax","x":198,"y":0,"l":0,"h":0},{"s":"Softmax","x":208,"y":0.03,"l":0.01,"h":0.05},{"s":"Softmax","x":218,"y":0.065,"l":0.035,"h":0.095},{"s":"Softmax","x":228,"y":0.048,"l":0.02,"h":0.076},{"s":"Softmax","x":238,"y":0.033,"l":0.01,"h":0.056},{"s":"Softmax","x":248,"y":0.033,"l":0.01,"h":0.056},{"s":"Softmax","x":258,"y":0.05,"l":0.025,"h":0.075},{"s":"Softmax","x":268,"y":0.05,"l":0.025,"h":0.075},{"s":"Softmax","x":278,"y":0.035,"l":0.01,"h":0.06},{"s":"Softmax","x":288,"y":0.035,"l":0.01,"h":0.06},{"s":"Softmax","x":298,"y":0.05,"l":0.025,"h":0.075},{"s":"Softmax","x":305,"y":0.07,"l":0.04,"h":0.1},{"s":"Softmax","x":313,"y":0.11,"l":0.08,"h":0.14},{"s":"Softmax","x":323,"y":0.18,"l":0.15,"h":0.21},{"s":"Softmax","x":334,"y":0.19,"l":0.16,"h":0.22},{"s":"Softmax","x":347,"y":0.22,"l":0.19,"h":0.25},{"s":"Softmax","x":358,"y":0.245,"l":0.21,"h":0.28},{"s":"Softmax","x":368,"y":0.25,"l":0.21,"h":0.29},{"s":"Softmax","x":376,"y":0.33,"l":0.29,"h":0.37},{"s":"Softmax","x":388,"y":0.37,"l":0.33,"h":0.41},{"s":"Softmax","x":399,"y":0.39,"l":0.35,"h":0.43},{"s":"Softmax","x":413,"y":0.36,"l":0.32,"h":0.4},{"s":"Softmax","x":424,"y":0.335,"l":0.29,"h":0.38},{"s":"Softmax","x":436,"y":0.4,"l":0.35,"h":0.45},{"s":"Softmax","x":443,"y":0.44,"l":0.39,"h":0.49},{"s":"Softmax","x":455,"y":0.39,"l":0.34,"h":0.44},{"s":"Softmax","x":465,"y":0.333,"l":0.28,"h":0.39},{"s":"Softmax","x":476,"y":0.38,"l":0.33,"h":0.43},{"s":"Softmax","x":486,"y":0.43,"l":0.38,"h":0.48},{"s":"Softmax","x":496,"y":0.46,"l":0.41,"h":0.51},{"s":"Softmax","x":500,"y":0.43,"l":0.37,"h":0.49}
],
"h":[
{"s":"Hardmax","x":0,"y":null,"l":60,"h":270},{"s":"Hardmax","x":0.22,"y":130,"l":60,"h":270},{"s":"Hardmax","x":0.24,"y":130,"l":60,"h":270},
{"s":"Hardmax","x":0.26,"y":700,"l":600,"h":800},{"s":"Hardmax","x":0.3,"y":950,"l":850,"h":1050},{"s":"Hardmax","x":0.34,"y":1150,"l":1050,"h":1250},{"s":"Hardmax","x":0.38,"y":1100,"l":1000,"h":1200},{"s":"Hardmax","x":0.42,"y":1120,"l":1020,"h":1220},{"s":"Hardmax","x":0.45,"y":1400,"l":1280,"h":1520},{"s":"Hardmax","x":0.48,"y":1250,"l":1130,"h":1370},{"s":"Hardmax","x":0.52,"y":1150,"l":1030,"h":1270},{"s":"Hardmax","x":0.56,"y":1250,"l":1130,"h":1370},{"s":"Hardmax","x":0.6,"y":1300,"l":1170,"h":1430},{"s":"Hardmax","x":0.64,"y":1450,"l":1320,"h":1580},{"s":"Hardmax","x":0.68,"y":1700,"l":1560,"h":1840},{"s":"Hardmax","x":0.72,"y":1800,"l":1660,"h":1940},{"s":"Hardmax","x":0.76,"y":2000,"l":1850,"h":2150},{"s":"Hardmax","x":0.8,"y":2100,"l":1950,"h":2250},{"s":"Hardmax","x":0.84,"y":2150,"l":2000,"h":2300},{"s":"Hardmax","x":0.88,"y":2250,"l":2100,"h":2400},{"s":"Hardmax","x":0.92,"y":2400,"l":2250,"h":2550},{"s":"Hardmax","x":0.96,"y":2350,"l":2200,"h":2500},{"s":"Hardmax","x":1.0,"y":2550,"l":2400,"h":2700},{"s":"Hardmax","x":1.04,"y":2650,"l":2500,"h":2800},{"s":"Hardmax","x":1.08,"y":2500,"l":2350,"h":2650},{"s":"Hardmax","x":1.12,"y":2450,"l":2300,"h":2600},{"s":"Hardmax","x":1.16,"y":2600,"l":2450,"h":2750},{"s":"Hardmax","x":1.21,"y":2660,"l":2500,"h":2820},{"s":"Hardmax","x":1.25,"y":2850,"l":2700,"h":3000},{"s":"Hardmax","x":1.28,"y":2900,"l":2750,"h":3050},{"s":"Hardmax","x":1.32,"y":3000,"l":2850,"h":3150},{"s":"Hardmax","x":1.36,"y":2950,"l":2800,"h":3100},{"s":"Hardmax","x":1.4,"y":3050,"l":2900,"h":3200},{"s":"Hardmax","x":1.43,"y":3050,"l":2900,"h":3200},{"s":"Hardmax","x":1.47,"y":2750,"l":2500,"h":3000},{"s":"Hardmax","x":1.5,"y":2200,"l":1600,"h":2800},{"s":"Hardmax","x":1.53,"y":2400,"l":2000,"h":2800},{"s":"Hardmax","x":1.56,"y":2700,"l":2450,"h":2950},{"s":"Hardmax","x":1.6,"y":2900,"l":2700,"h":3100},{"s":"Hardmax","x":1.64,"y":2950,"l":2780,"h":3120},{"s":"Hardmax","x":1.68,"y":2800,"l":2640,"h":2960},{"s":"Hardmax","x":1.72,"y":2800,"l":2640,"h":2960},{"s":"Hardmax","x":1.76,"y":2950,"l":2790,"h":3110},{"s":"Hardmax","x":1.8,"y":3000,"l":2840,"h":3160},{"s":"Hardmax","x":1.84,"y":2980,"l":2820,"h":3140},{"s":"Hardmax","x":1.88,"y":3050,"l":2890,"h":3210},{"s":"Hardmax","x":1.92,"y":3050,"l":2890,"h":3210},{"s":"Hardmax","x":1.96,"y":3100,"l":2940,"h":3260},{"s":"Hardmax","x":2.0,"y":3150,"l":2990,"h":3310},
{"s":"Softmax","x":0,"y":null,"l":60,"h":270},{"s":"Softmax","x":0.22,"y":130,"l":60,"h":270},{"s":"Softmax","x":0.24,"y":130,"l":60,"h":270},
{"s":"Softmax","x":0.26,"y":700,"l":600,"h":800},{"s":"Softmax","x":0.3,"y":1000,"l":900,"h":1100},{"s":"Softmax","x":0.34,"y":1150,"l":1050,"h":1250},{"s":"Softmax","x":0.38,"y":1100,"l":1000,"h":1200},{"s":"Softmax","x":0.42,"y":1150,"l":1050,"h":1250},{"s":"Softmax","x":0.46,"y":1300,"l":1190,"h":1410},{"s":"Softmax","x":0.5,"y":1450,"l":1330,"h":1570},{"s":"Softmax","x":0.54,"y":1500,"l":1380,"h":1620},{"s":"Softmax","x":0.58,"y":1650,"l":1520,"h":1780},{"s":"Softmax","x":0.62,"y":1800,"l":1660,"h":1940},{"s":"Softmax","x":0.66,"y":1950,"l":1810,"h":2090},{"s":"Softmax","x":0.7,"y":2200,"l":2050,"h":2350},{"s":"Softmax","x":0.74,"y":2350,"l":2200,"h":2500},{"s":"Softmax","x":0.78,"y":2400,"l":2250,"h":2550},{"s":"Softmax","x":0.82,"y":2550,"l":2400,"h":2700},{"s":"Softmax","x":0.86,"y":2650,"l":2500,"h":2800},{"s":"Softmax","x":0.9,"y":2700,"l":2550,"h":2850},{"s":"Softmax","x":0.94,"y":2650,"l":2500,"h":2800},{"s":"Softmax","x":0.98,"y":2700,"l":2550,"h":2850},{"s":"Softmax","x":1.02,"y":2700,"l":2550,"h":2850},{"s":"Softmax","x":1.06,"y":2650,"l":2500,"h":2800},{"s":"Softmax","x":1.1,"y":2650,"l":2500,"h":2800},{"s":"Softmax","x":1.14,"y":2800,"l":2640,"h":2960},{"s":"Softmax","x":1.18,"y":2950,"l":2790,"h":3110},{"s":"Softmax","x":1.22,"y":3050,"l":2890,"h":3210},{"s":"Softmax","x":1.26,"y":3250,"l":3080,"h":3420},{"s":"Softmax","x":1.3,"y":3400,"l":3230,"h":3570},{"s":"Softmax","x":1.34,"y":3200,"l":3030,"h":3370},{"s":"Softmax","x":1.38,"y":3050,"l":2880,"h":3220},{"s":"Softmax","x":1.42,"y":3100,"l":2930,"h":3270},{"s":"Softmax","x":1.46,"y":3150,"l":2980,"h":3320},{"s":"Softmax","x":1.5,"y":2950,"l":2780,"h":3120},{"s":"Softmax","x":1.54,"y":3100,"l":2930,"h":3270},{"s":"Softmax","x":1.58,"y":3200,"l":3030,"h":3370},{"s":"Softmax","x":1.62,"y":3300,"l":3120,"h":3480},{"s":"Softmax","x":1.66,"y":3500,"l":3320,"h":3680},{"s":"Softmax","x":1.7,"y":3650,"l":3470,"h":3830},{"s":"Softmax","x":1.74,"y":3400,"l":3220,"h":3580},{"s":"Softmax","x":1.78,"y":3600,"l":3420,"h":3780},{"s":"Softmax","x":1.82,"y":3650,"l":3470,"h":3830},{"s":"Softmax","x":1.86,"y":3550,"l":3370,"h":3730},{"s":"Softmax","x":1.9,"y":3650,"l":3460,"h":3840},{"s":"Softmax","x":1.94,"y":3750,"l":3560,"h":3940},{"s":"Softmax","x":1.97,"y":3600,"l":3410,"h":3790},{"s":"Softmax","x":2.0,"y":3550,"l":3360,"h":3740}
]
},
"concat":[
{"title":{"text":"(a) Batch Size (𝑁ᵤ)","orient":"bottom","anchor":"middle","font":"Liberation Serif","fontSize":21.5,"color":"black","fontWeight":"normal","offset":17},
 "vconcat":[{"width":180,"height":139,"title":"Ant-Goal","data":{"name":"a"},
 "encoding":{"x":{"field":"x","type":"quantitative","title":"Timesteps","scale":{"domain":[0,2],"nice":false,"zero":false},"axis":{"values":[0.5,1,1.5,2],"labelExpr":"datum.value + 'M'"}}},
 "layer":[
 {"mark":{"type":"area","fillOpacity":0.2,"clip":true},"encoding":{"y":{"field":"l","type":"quantitative","title":"Average Return","scale":{"domain":[294,420],"nice":false,"zero":false},"axis":{"values":[300,320,340,360,380,400,420],"format":"d"}},"y2":{"field":"h"},"color":{"field":"s","type":"nominal","scale":{"domain":["16","32","64","128","256"],"range":["#1f77b4","#ff7f0e","#2ca02c","#d62728","#9467bd"]},"legend":{"title":null}}}},
 {"mark":{"type":"line","strokeWidth":1.1,"clip":true},"encoding":{"y":{"field":"y","type":"quantitative","title":"Average Return","scale":{"domain":[294,420],"nice":false,"zero":false},"axis":{"values":[300,320,340,360,380,400,420],"format":"d"}},"color":{"field":"s","type":"nominal","scale":{"domain":["16","32","64","128","256"],"range":["#1f77b4","#ff7f0e","#2ca02c","#d62728","#9467bd"]},"legend":{"title":null}}}}
 ]}]},
{"title":{"text":"(b) Partition Function","orient":"bottom","anchor":"middle","font":"Liberation Serif","fontSize":21.5,"color":"black","fontWeight":"normal","offset":17},
 "vconcat":[{"width":180,"height":139,"title":"Sawyer-Push","data":{"name":"b"},
 "encoding":{"x":{"field":"x","type":"quantitative","title":"Timesteps","scale":{"domain":[0.12,1],"nice":false,"zero":false},"axis":{"values":[0.2,0.4,0.6,0.8,1],"labelExpr":"datum.value + 'M'"}}},
 "layer":[
 {"mark":{"type":"area","fillOpacity":0.2,"clip":true},"encoding":{"y":{"field":"l","type":"quantitative","title":"Success Rate","scale":{"domain":[-0.046,0.907],"nice":false,"zero":false},"axis":{"values":[0,0.1,0.2,0.3,0.4,0.5,0.6,0.7,0.8,0.9],"labelExpr":"format(datum.value, '~g')"}},"y2":{"field":"h"},"color":{"field":"s","type":"nominal","scale":{"domain":["With Partition","Without Partition"],"range":["#1f77b4","#ff7f0e"]},"legend":{"title":null}}}},
 {"mark":{"type":"line","strokeWidth":1.1,"clip":true},"encoding":{"y":{"field":"y","type":"quantitative","title":"Success Rate","scale":{"domain":[-0.046,0.907],"nice":false,"zero":false},"axis":{"values":[0,0.1,0.2,0.3,0.4,0.5,0.6,0.7,0.8,0.9],"labelExpr":"format(datum.value, '~g')"}},"color":{"field":"s","type":"nominal","scale":{"domain":["With Partition","Without Partition"],"range":["#1f77b4","#ff7f0e"]},"legend":{"title":null}}}}
 ]}]},
{"title":{"text":"(c) Reward Function","orient":"bottom","anchor":"middle","font":"Liberation Serif","fontSize":21.5,"color":"black","fontWeight":"normal","offset":17},
 "vconcat":[{"width":180,"height":139,"title":"Ant-Goal","data":{"name":"c"},
 "encoding":{"x":{"field":"x","type":"quantitative","title":"Timesteps","scale":{"domain":[0,2],"nice":false,"zero":false},"axis":{"values":[0.5,1,1.5,2],"labelExpr":"datum.value + 'M'"}}},
 "layer":[
 {"mark":{"type":"area","fillOpacity":0.2,"clip":true},"encoding":{"y":{"field":"l","type":"quantitative","title":"Average Return","scale":{"domain":[294,420],"nice":false,"zero":false},"axis":{"values":[300,320,340,360,380,400,420],"format":"d"}},"y2":{"field":"h"},"color":{"field":"s","type":"nominal","scale":{"domain":["Learned Reward Function","True Reward Function"],"range":["#1f77b4","#ff7f0e"]},"legend":{"title":null}}}},
 {"mark":{"type":"line","strokeWidth":1.1,"clip":true},"encoding":{"y":{"field":"y","type":"quantitative","title":"Average Return","scale":{"domain":[294,420],"nice":false,"zero":false},"axis":{"values":[300,320,340,360,380,400,420],"format":"d"}},"color":{"field":"s","type":"nominal","scale":{"domain":["Learned Reward Function","True Reward Function"],"range":["#1f77b4","#ff7f0e"]},"legend":{"title":null}}}}
 ]}]},
{"title":{"text":"(d) Reward Function","orient":"bottom","anchor":"middle","font":"Liberation Serif","fontSize":21.5,"color":"black","fontWeight":"normal","offset":17},
 "vconcat":[{"width":180,"height":139,"title":"Cheetah-Highdim","data":{"name":"d"},
 "encoding":{"x":{"field":"x","type":"quantitative","title":"Timesteps","scale":{"domain":[0,2],"nice":false,"zero":false},"axis":{"values":[0.5,1,1.5,2],"labelExpr":"datum.value + 'M'"}}},
 "layer":[
 {"mark":{"type":"area","fillOpacity":0.2,"clip":true},"encoding":{"y":{"field":"l","type":"quantitative","title":"Average Return","scale":{"domain":[-120,4745],"nice":false,"zero":false},"axis":{"values":[0,500,1000,1500,2000,2500,3000,3500,4000,4500],"format":"d"}},"y2":{"field":"h"},"color":{"field":"s","type":"nominal","scale":{"domain":["Learned Reward Function","True Reward Function"],"range":["#1f77b4","#ff7f0e"]},"legend":{"title":null}}}},
 {"mark":{"type":"line","strokeWidth":1.1,"clip":true},"encoding":{"y":{"field":"y","type":"quantitative","title":"Average Return","scale":{"domain":[-120,4745],"nice":false,"zero":false},"axis":{"values":[0,500,1000,1500,2000,2500,3000,3500,4000,4500],"format":"d"}},"color":{"field":"s","type":"nominal","scale":{"domain":["Learned Reward Function","True Reward Function"],"range":["#1f77b4","#ff7f0e"]},"legend":{"title":null}}}}
 ]}]},
{"title":{"text":["(e) Soft-max vs Hard-","max"],"orient":"bottom","anchor":"start","align":"left","lineHeight":23,"font":"Liberation Serif","fontSize":21.5,"color":"black","fontWeight":"normal","offset":17},
 "vconcat":[{"width":180,"height":139,"title":"Ant-Goal","data":{"name":"e"},
 "encoding":{"x":{"field":"x","type":"quantitative","title":"Timesteps","scale":{"domain":[0,2],"nice":false,"zero":false},"axis":{"values":[0.5,1,1.5,2],"labelExpr":"datum.value + 'M'"}}},
 "layer":[
 {"mark":{"type":"area","fillOpacity":0.2,"clip":true},"encoding":{"y":{"field":"l","type":"quantitative","title":"Average Return","scale":{"domain":[293,420],"nice":false,"zero":false},"axis":{"values":[300,320,340,360,380,400,420],"format":"d"}},"y2":{"field":"h"},"color":{"field":"s","type":"nominal","scale":{"domain":["Hardmax","Softmax"],"range":["#1f77b4","#ff7f0e"]},"legend":{"title":null}}}},
 {"mark":{"type":"line","strokeWidth":1.1,"clip":true},"encoding":{"y":{"field":"y","type":"quantitative","title":"Average Return","scale":{"domain":[293,420],"nice":false,"zero":false},"axis":{"values":[300,320,340,360,380,400,420],"format":"d"}},"color":{"field":"s","type":"nominal","scale":{"domain":["Hardmax","Softmax"],"range":["#1f77b4","#ff7f0e"]},"legend":{"title":null}}}}
 ]}]},
{"title":{"text":["(f) Soft-max vs Hard-","max"],"orient":"bottom","anchor":"start","align":"left","lineHeight":23,"font":"Liberation Serif","fontSize":21.5,"color":"black","fontWeight":"normal","offset":17},
 "vconcat":[{"width":180,"height":139,"title":"Sawyer-Push","data":{"name":"f"},
 "encoding":{"x":{"field":"x","type":"quantitative","title":"Timesteps","scale":{"domain":[0.12,1],"nice":false,"zero":false},"axis":{"values":[0.2,0.4,0.6,0.8,1],"labelExpr":"datum.value + 'M'"}}},
 "layer":[
 {"mark":{"type":"area","fillOpacity":0.2,"clip":true},"encoding":{"y":{"field":"l","type":"quantitative","title":"Success Rate","scale":{"domain":[-0.046,0.916],"nice":false,"zero":false},"axis":{"values":[0,0.1,0.2,0.3,0.4,0.5,0.6,0.7,0.8,0.9],"labelExpr":"format(datum.value, '~g')"}},"y2":{"field":"h"},"color":{"field":"s","type":"nominal","scale":{"domain":["Hardmax","Softmax"],"range":["#1f77b4","#ff7f0e"]},"legend":{"title":null}}}},
 {"mark":{"type":"line","strokeWidth":1.1,"clip":true},"encoding":{"y":{"field":"y","type":"quantitative","title":"Success Rate","scale":{"domain":[-0.046,0.916],"nice":false,"zero":false},"axis":{"values":[0,0.1,0.2,0.3,0.4,0.5,0.6,0.7,0.8,0.9],"labelExpr":"format(datum.value, '~g')"}},"color":{"field":"s","type":"nominal","scale":{"domain":["Hardmax","Softmax"],"range":["#1f77b4","#ff7f0e"]},"legend":{"title":null}}}}
 ]}]},
{"title":{"text":["(g) Soft-max vs Hard-","max"],"orient":"bottom","anchor":"start","align":"left","lineHeight":23,"font":"Liberation Serif","fontSize":21.5,"color":"black","fontWeight":"normal","offset":17},
 "vconcat":[{"width":180,"height":139,"title":"Sawyer-Reach","data":{"name":"g"},
 "encoding":{"x":{"field":"x","type":"quantitative","title":"Timesteps","scale":{"domain":[125,500],"nice":false,"zero":false},"axis":{"values":[150,200,250,300,350,400,450,500],"labelExpr":"datum.value + 'k'"}}},
 "layer":[
 {"mark":{"type":"area","fillOpacity":0.2,"clip":true},"encoding":{"y":{"field":"l","type":"quantitative","title":"Success Rate","scale":{"domain":[-0.027,0.543],"nice":false,"zero":false},"axis":{"values":[0,0.1,0.2,0.3,0.4,0.5],"labelExpr":"format(datum.value, '~g')"}},"y2":{"field":"h"},"color":{"field":"s","type":"nominal","scale":{"domain":["Hardmax","Softmax"],"range":["#1f77b4","#ff7f0e"]},"legend":{"title":null}}}},
 {"mark":{"type":"line","strokeWidth":1.1,"clip":true},"encoding":{"y":{"field":"y","type":"quantitative","title":"Success Rate","scale":{"domain":[-0.027,0.543],"nice":false,"zero":false},"axis":{"values":[0,0.1,0.2,0.3,0.4,0.5],"labelExpr":"format(datum.value, '~g')"}},"color":{"field":"s","type":"nominal","scale":{"domain":["Hardmax","Softmax"],"range":["#1f77b4","#ff7f0e"]},"legend":{"title":null}}}}
 ]}]},
{"title":{"text":["(h) Soft-max vs Hard-","max"],"orient":"bottom","anchor":"start","align":"left","lineHeight":23,"font":"Liberation Serif","fontSize":21.5,"color":"black","fontWeight":"normal","offset":17},
 "vconcat":[{"width":180,"height":139,"title":"Cheetah-Highdim","data":{"name":"h"},
 "encoding":{"x":{"field":"x","type":"quantitative","title":"Timesteps","scale":{"domain":[0,2],"nice":false,"zero":false},"axis":{"values":[0.5,1,1.5,2],"labelExpr":"datum.value + 'M'"}}},
 "layer":[
 {"mark":{"type":"area","fillOpacity":0.2,"clip":true},"encoding":{"y":{"field":"l","type":"quantitative","title":"Average Return","scale":{"domain":[-71,4098],"nice":false,"zero":false},"axis":{"values":[0,500,1000,1500,2000,2500,3000,3500,4000],"format":"d"}},"y2":{"field":"h"},"color":{"field":"s","type":"nominal","scale":{"domain":["Hardmax","Softmax"],"range":["#1f77b4","#ff7f0e"]},"legend":{"title":null}}}},
 {"mark":{"type":"line","strokeWidth":1.1,"clip":true},"encoding":{"y":{"field":"y","type":"quantitative","title":"Average Return","scale":{"domain":[-71,4098],"nice":false,"zero":false},"axis":{"values":[0,500,1000,1500,2000,2500,3000,3500,4000],"format":"d"}},"color":{"field":"s","type":"nominal","scale":{"domain":["Hardmax","Softmax"],"range":["#1f77b4","#ff7f0e"]},"legend":{"title":null}}}}
 ]}]}
],
"config":{
 "font":"Open Sans",
 "view":{"fill":"#E5ECF6","stroke":null},
 "axis":{"domain":false,"ticks":false,"gridColor":"#ffffff","gridWidth":1,"labelFontSize":7,"labelColor":"#2a3f5f","titleFontSize":8,"titleFontWeight":"normal","titleColor":"#2a3f5f","labelOverlap":false,"labelFlush":false},
 "axisX":{"labelPadding":1,"titlePadding":6},
 "axisY":{"labelPadding":2,"titlePadding":1,"minExtent":17,"maxExtent":17},
 "title":{"fontSize":9.5,"fontWeight":"normal","color":"#2a3f5f","offset":2},
 "legend":{"orient":"top-left","offset":1,"padding":1,"symbolType":"stroke","symbolSize":100,"symbolStrokeWidth":1.5,"labelFontSize":7.5,"labelColor":"#2a3f5f","rowPadding":1.5,"labelOffset":3}
}
}
